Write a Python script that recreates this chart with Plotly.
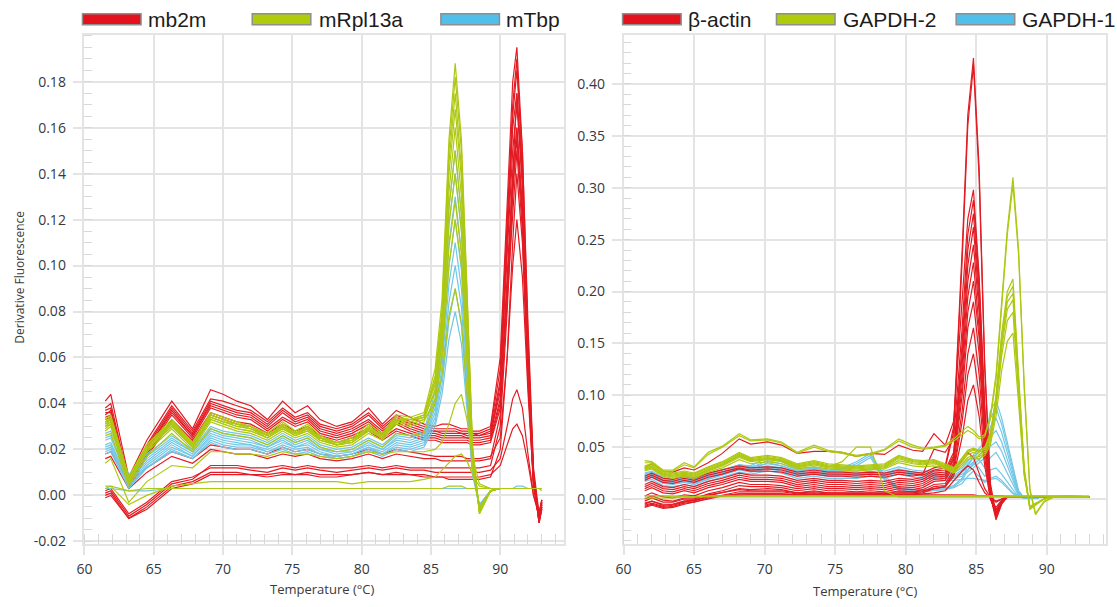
import plotly.graph_objects as go

# ---------------- temperature grids (deg C) ----------------
temp_left = [61.5, 61.9, 63.2, 64.5, 66.3, 67.8, 69.1, 70.0, 71.0, 72.0,
             73.2, 74.3, 75.2, 76.1, 77.0, 78.2, 79.3, 80.5, 81.5, 82.5,
             83.5, 84.5, 85.3, 85.8, 86.3, 86.75, 87.2, 87.6, 88.0, 88.5,
             89.3, 90.0, 90.5, 90.9, 91.2, 91.6, 92.0, 92.4, 92.8, 93.0]
temp_right = [61.5, 62.0, 62.8, 63.5, 64.3, 65.0, 66.0, 67.0, 68.2, 69.0,
              70.2, 71.2, 72.3, 73.5, 74.5, 75.5, 76.5, 77.5, 78.5, 79.5,
              80.5, 81.2, 82.0, 82.8, 83.4, 84.0, 84.4, 84.8, 85.2, 85.6,
              86.0, 86.4, 86.8, 87.2, 87.6, 88.0, 88.4, 88.8, 89.2, 89.8,
              90.5, 91.5, 93.0]

# derivative fluorescence values, in units of 0.001
# ---- left panel: mb2m ----
mb2m_1 = [41,44,8,24,41,29,46,44,41,39,33,41,36,39,33,30,32,38,31,37,34,31,30,31,31,30,29,29,28,28,30,60,130,180,195,150,70,10,-10,-3]
mb2m_2 = [38,40,6,22,39,28,42,41,39,37,32,38,34,36,31,29,31,36,30,35,32,30,29,29,29,29,28,28,27,27,29,55,120,170,190,140,65,8,-12,-5]
mb2m_3 = [37,38,5,21,38,27,41,39,37,36,31,37,33,35,30,28,30,35,29,34,31,29,28,28,28,28,27,27,27,26,28,50,115,165,185,150,75,12,-8,-2]
mb2m_4 = [35,37,4,20,37,26,40,38,36,35,30,36,32,34,29,27,29,33,28,33,30,28,28,27,27,27,27,26,26,26,27,45,110,160,175,140,65,10,-11,-4]
mb2m_5 = [36,36,5,20,36,26,39,37,35,34,29,34,31,33,28,26,28,32,27,32,29,27,27,26,26,26,26,25,25,25,26,48,105,150,170,135,60,8,-12,-6]
mb2m_6 = [33,34,4,19,35,25,38,36,34,33,28,33,30,32,27,25,27,31,26,31,28,26,26,25,25,25,25,25,24,24,25,42,95,140,160,125,58,9,-9,-3]
mb2m_7 = [34,35,3,18,33,24,36,34,32,31,27,31,28,30,26,24,26,29,25,29,27,25,25,24,24,24,24,24,23,23,24,40,90,135,155,120,55,6,-10,-4]
mb2m_8 = [32,33,3,17,32,23,35,33,31,30,26,30,27,29,25,23,25,28,24,28,26,24,24,23,23,23,23,23,22,22,23,38,85,125,150,115,50,5,-11,-5]
mb2m_9 = [18,19,6,12,19,16,22,21,20,20,18,21,19,20,18,17,18,20,18,20,19,18,17,17,17,17,17,16,16,16,17,25,60,100,120,95,45,5,-8,-2]
mb2m_10 = [2,3,-8,-3,6,8,12,12,12,11,10,12,11,12,11,10,11,12,11,12,11,11,10,10,10,10,10,10,10,10,11,16,30,42,46,38,18,0,-9,-3]
mb2m_11 = [0,1,-10,-5,4,6,10,10,10,9,9,10,9,10,9,9,9,10,9,10,9,9,8,8,8,8,8,8,8,8,9,13,22,29,31,26,14,0,-8,-2]
mb2m_12 = [-1,0,-10,-6,3,5,9,9,9,9,8,9,9,9,8,8,9,10,9,9,9,8,8,8,7,7,7,7,7,7,8,20,60,110,140,110,50,4,-10,-4]
mb2m_13 = [1,2,-9,-4,5,7,13,13,13,12,12,13,12,13,12,12,12,13,12,13,12,12,12,12,12,12,12,12,12,12,13,30,80,130,160,125,55,5,-11,-5]
mb2m_14 = [16,17,3,10,17,14,20,19,18,18,16,18,17,18,16,15,16,18,16,18,17,16,16,15,15,15,15,15,15,15,16,35,90,140,175,135,60,7,-12,-6]

# ---- left panel: mRpl13a ----
mrpl13a_1 = [33,35,8,22,33,23,36,34,32,30,27,32,28,31,26,23,25,31,27,35,34,36,55,85,155,188,155,90,22,-8,2,3,3,3,3,3,3,3,3,3]
mrpl13a_2 = [32,34,7,21,32,22,35,33,31,30,26,31,27,30,25,23,24,30,26,34,33,35,52,80,150,182,150,88,20,-7,2,3,3,3,3,3,3,3,3,3]
mrpl13a_3 = [31,33,7,21,31,22,34,32,31,29,26,30,27,29,25,22,24,29,26,33,33,34,50,78,145,175,142,85,20,-8,2,3,3,3,3,3,3,3,3,3]
mrpl13a_4 = [30,32,6,20,31,21,34,32,30,29,25,30,26,29,24,22,23,29,25,33,32,34,50,75,140,168,138,80,18,-7,2,3,3,3,3,3,3,3,3,3]
mrpl13a_5 = [32,33,8,22,32,23,35,33,31,30,26,31,27,30,25,23,24,30,26,34,33,35,48,72,132,160,130,78,18,-6,2,3,3,3,3,3,3,3,3,3]
mrpl13a_6 = [29,31,6,20,30,21,33,31,29,28,25,29,26,28,24,22,23,28,25,32,31,33,46,70,125,150,122,72,16,-7,2,3,3,3,3,3,3,3,3,3]
mrpl13a_7 = [31,32,7,21,31,22,34,32,30,29,26,30,27,29,25,22,24,29,26,33,32,34,45,66,118,140,115,68,15,-6,2,3,3,3,3,3,3,3,3,3]
mrpl13a_8 = [28,30,5,19,29,20,32,30,28,27,24,28,25,27,23,21,22,27,24,31,30,32,42,60,100,120,100,60,14,-6,2,3,3,3,3,3,3,3,3,3]
mrpl13a_9 = [30,31,6,20,30,21,33,31,29,28,25,29,26,28,24,22,23,28,25,32,31,33,40,52,78,90,75,45,12,-5,2,3,3,3,3,3,3,3,3,3]
mrpl13a_10 = [14,16,-3,6,13,12,19,19,18,18,17,19,18,18,17,16,17,19,18,19,19,19,20,23,31,40,44,33,17,5,3,3,3,3,3,3,3,3,3,3]
mrpl13a_11 = [3,4,-4,0,4,5,6,6,6,6,6,6,6,6,6,6,5,6,6,6,6,7,8,11,14,17,18,15,9,4,3,3,3,3,3,3,3,3,3,3]
mrpl13a_12 = [4,4,2,3,3, 3,3,3,3,3, 3,3,3,3,3, 3,3,3,3,3, 3,3,3,3,4, 4,4,3,3,3, 3,3,3,3,3, 3,3,3,3,2]
mrpl13a_13 = [26,27,4,17,27,19,29,27,26,25,22,26,23,25,21,19,20,24,21,27,26,27,40,62,108,128,105,62,14,-6,2,3,3,3,3,3,3,3,3,3]

# ---- left panel: mTbp ----
mtbp_1 = [27,28,9,18,26,20,30,28,27,26,23,27,24,26,22,20,21,25,22,27,26,28,45,75,125,150,122,70,15,-6,2,3,3,3,3,3,3,3,3,3]
mtbp_2 = [25,26,8,17,25,19,29,27,26,25,22,26,23,25,21,19,20,24,21,26,25,27,42,70,118,140,115,65,13,-5,2,3,3,3,3,3,3,3,3,3]
mtbp_3 = [24,25,7,16,24,19,28,26,25,24,21,25,22,24,20,19,19,23,20,25,24,26,40,66,110,130,106,60,12,-6,2,3,3,3,3,3,3,3,3,3]
mtbp_4 = [22,23,6,15,23,18,27,25,24,23,21,24,21,23,20,18,19,22,20,24,23,25,38,60,100,120,98,55,12,-5,2,3,3,3,3,3,3,3,3,3]
mtbp_5 = [21,22,5,14,22,17,26,24,23,22,20,23,21,22,19,17,18,21,19,23,22,24,36,56,92,110,90,50,11,-5,2,3,3,3,3,3,3,3,3,3]
mtbp_6 = [20,21,4,13,21,17,25,23,22,22,19,22,20,21,18,17,18,21,18,22,21,23,34,52,84,100,82,46,10,-4,2,3,3,3,3,3,3,3,3,3]
mtbp_7 = [19,20,4,12,20,16,24,22,21,21,19,21,19,20,18,16,17,20,18,21,20,22,32,48,76,90,74,42,10,-4,2,3,3,3,3,3,3,3,3,3]
mtbp_8 = [18,19,3,12,19,16,23,21,20,20,18,20,18,19,17,16,17,19,17,20,19,21,30,44,68,80,66,38,9,-5,2,3,3,3,3,3,3,3,3,3]
mtbp_9 = [3,3,2,2,3, 3,3,3,3,3, 3,3,3,3,3, 3,3,3,3,3, 3,3,3,3,3, 3,3,3,3,3, 3,3,3,3,4, 4,3,3,3,3]

# ---- right panel: beta-actin ----
bactin_1 = [22,25,20,19,22,20,25,28,32,30,31,30,26,28,26,26,25,26,25,28,26,25,30,32,70,240,370,425,320,130,15,-15,-3,2,2,2,2,2,2,2,2,2,2]
bactin_2 = [20,23,18,17,20,18,23,26,30,28,29,28,24,26,24,24,23,24,23,26,24,23,28,30,65,230,360,418,310,125,12,-16,-4,2,2,2,2,2,2,2,2,2,2]
bactin_3 = [30,34,27,26,30,28,35,44,58,53,55,52,44,46,46,45,41,44,43,52,47,46,63,52,75,190,270,298,215,90,8,-12,-2,2,2,2,2,2,2,2,2,2,2]
bactin_4 = [18,21,16,15,18,16,21,24,29,27,27,26,22,24,22,22,21,22,21,24,22,24,48,45,58,165,255,288,210,85,6,-14,-3,2,2,2,2,2,2,2,2,2,2]
bactin_5 = [14,17,12,11,14,12,17,20,25,23,23,22,18,20,18,18,17,18,17,20,19,21,27,28,45,150,240,275,200,80,5,-15,-3,2,2,2,2,2,2,2,2,2,2]
bactin_6 = [12,15,10,9,12,10,15,18,23,21,21,20,16,18,16,16,15,16,15,18,17,19,25,26,42,140,225,262,190,75,4,-18,-4,2,2,2,2,2,2,2,2,2,2]
bactin_7 = [10,13,8,7,10,8,13,16,21,19,19,18,14,16,14,14,13,14,13,16,15,17,23,24,40,130,210,245,180,70,3,-20,-5,2,2,2,2,2,2,2,2,2,2]
bactin_8 = [8,11,6,5,8,6,11,14,19,17,17,16,12,14,12,12,11,12,11,14,13,15,21,22,38,120,195,228,165,65,2,-14,-3,2,2,2,2,2,2,2,2,2,2]
bactin_9 = [3,6,2,1,4,3,8,11,16,14,14,13,10,12,10,10,9,10,9,12,11,13,19,20,35,110,180,210,155,60,2,-16,-3,2,2,2,2,2,2,2,2,2,2]
bactin_10 = [-2,1,-3,-3,0,0,5,8,13,12,12,11,8,10,8,8,7,8,7,10,9,11,17,18,32,100,165,190,140,55,1,-14,-2,2,2,2,2,2,2,2,2,2,2]
bactin_11 = [-5,-2,-6,-5,-2,-2,3,6,10,9,10,9,6,8,6,6,5,6,5,8,7,9,14,15,28,85,140,165,120,48,0,-12,-2,2,2,2,2,2,2,2,2,2,2]
bactin_12 = [-7,-5,-8,-7,-4,-3,1,4,7,7,7,7,5,6,5,5,5,5,5,6,6,7,12,13,25,75,120,140,100,40,0,-10,-2,2,2,2,2,2,2,2,2,2,2]
bactin_13 = [-8,-6,-9,-8,-5,-3,0,3,5,5,5,5,4,5,4,4,4,4,4,5,5,6,10,12,22,60,95,110,80,32,0,-8,-1,2,2,2,2,2,2,2,2,2,2]
bactin_14 = [0,3,-1,-2,1,1,4,6,9,8,8,8,6,7,6,6,6,6,6,7,7,8,10,12,25,38,45,40,25,10,2,-3,0,2,2,2,2,2,2,2,2,2,2]
bactin_15 = [-4,-2,-5,-5,-2,-1,2,3,5,5,5,5,4,4,4,4,4,4,4,4,4,5,6,8,18,27,32,28,16,6,1,-2,0,2,2,2,2,2,2,2,2,2,2]
bactin_16 = [-6,-4,-7,-6,-3,-1,2,3, 4,4,4,4,4,4,4,4,4,4, 4,4,4,4,4,4,4,4,4,4, 3,3,3,3,3, 2,2,2,2,2,2,2,2,2,2]

# ---- right panel: GAPDH-2 ----
gapdh2_1 = [37,36,28,28,35,31,45,51,63,57,58,55,45,52,47,45,42,44,48,58,52,49,50,52,58,65,70,66,60,62,80,120,190,260,310,240,110,10,-14,-2,2,3,2]
gapdh2_2 = [35,35,27,27,33,30,43,50,61,56,57,54,44,50,46,44,41,43,47,56,50,48,49,51,56,62,66,63,58,60,78,115,185,255,303,235,105,8,-15,-3,2,3,2]
gapdh2_3 = [31,33,26,24,26,24,30,35,44,39,41,39,33,36,33,32,31,32,33,41,37,36,37,33,29,39,46,48,46,49,62,100,160,200,212,120,30,-8,-5,0,2,2,2]
gapdh2_4 = [30,32,25,23,25,23,29,34,43,38,40,38,32,35,32,31,30,31,32,40,36,35,36,32,28,38,45,47,45,48,60,98,155,195,205,115,28,-9,-5,0,2,2,2]
gapdh2_5 = [32,34,27,25,27,25,31,36,45,40,42,40,34,37,34,33,32,33,34,42,38,37,38,34,30,40,47,49,47,50,64,96,150,190,198,110,26,-10,-6,0,2,2,2]
gapdh2_6 = [29,31,24,22,24,22,28,33,42,37,39,37,31,34,31,30,29,30,31,39,35,34,35,31,27,36,43,45,43,46,58,92,145,183,192,108,25,-8,-5,0,2,2,2]
gapdh2_7 = [28,30,23,21,23,21,27,32,40,36,38,36,30,33,30,29,28,29,30,37,34,33,34,30,26,34,40,42,41,44,55,88,138,172,180,100,24,-8,-4,0,2,2,2]
gapdh2_8 = [27,29,22,20,22,20,26,30,38,34,36,34,29,31,29,28,27,28,29,35,32,31,32,29,25,32,38,40,39,42,52,80,124,152,160,92,22,-7,-4,0,2,2,2]
gapdh2_9 = [28,31,24,22,24,22,28,33,41,37,39,37,31,34,31,36,50,50,8,2, 2,2,2,2,2,2,2,2,2,2, 2,2,2,2,2,2,2,2,2,2, 2,2,2]
gapdh2_10 = [3,3,3,2,3,2,3,3,3,3, 3,3,3,3,3,3,3,3,3,3, 3,3,3,3,3,3,3,3,3,3, 3,3,3,3,3,3,3,3,3,3, 3,3,2]
gapdh2_11 = [1,1,1,1,2,2,2,2,2,2, 2,2,2,2,2,2,2,2,2,2, 2,2,2,2,2,2,2,2,2,2, 2,2,2,2,2,2,2,2,2,2, 2,2,2]

# ---- right panel: GAPDH-1 ----
gapdh1_1 = [25,27,21,19,21,19,24,28,33,31,34,32,27,29,27,27,27,29,27,31,28,27,27,25,25,30,36,42,48,55,85,95,78,55,32,8,1,1,1,2,2,2,2]
gapdh1_2 = [23,25,19,17,19,17,22,26,31,29,32,30,25,27,25,25,25,27,25,29,26,25,25,23,23,28,34,40,45,52,78,88,72,50,29,7,1,1,1,2,2,2,2]
gapdh1_3 = [22,24,18,16,18,16,21,25,30,28,31,29,24,26,24,24,24,26,24,28,25,24,24,22,22,26,31,36,42,48,70,78,64,45,26,6,1,1,1,2,2,2,2]
gapdh1_4 = [20,22,16,15,17,15,20,24,29,27,30,28,23,25,23,23,23,25,23,27,24,23,23,21,21,24,28,33,38,44,60,66,55,38,22,5,1,1,1,2,2,2,2]
gapdh1_5 = [19,21,15,14,16,14,19,23,28,26,29,27,22,24,22,22,22,24,22,26,23,22,22,20,20,22,26,30,35,40,51,55,46,32,18,4,1,1,1,2,2,2,2]
gapdh1_6 = [24,26,20,18,20,18,24,28,33,32,40,36,29,31,28,30,36,44,22,11,9,9,10,11,13,20,32,40,38,30,40,45,36,25,14,3,1,1,1,2,2,2,2]
gapdh1_7 = [22,24,18,16,18,16,22,26,31,30,37,34,28,30,27,29,34,42,20,10,8,8,9,10,12,18,28,35,30,22,28,30,24,16,9,2,1,1,1,2,2,2,2]
gapdh1_8 = [21,23,17,15,17,15,21,25,29,28,35,32,27,29,26,28,32,40,18,9,7,7,8,9,11,15,22,27,22,16,20,22,18,12,6,2,1,1,1,2,2,2,2]
gapdh1_9 = [17,19,13,12,14,12,17,21,26,24,27,25,20,22,20,20,20,22,20,24,21,20,20,18,18,19,20,20,19,18,19,20,16,10,5,2,1,1,1,2,2,2,2]
gapdh1_10 = [3,3,3,3,3,3,3,3,3,3, 3,3,3,3,3,3,3,3,3,3, 3,3,3,3,3,3,3,3,3,3, 3,3,3,3,3,3,3,3,3,3, 3,3,3]

# tick labels
left_y_ticks = [-0.02, 0.00, 0.02, 0.04, 0.06, 0.08, 0.10, 0.12, 0.14, 0.16, 0.18]
left_y_labels = ["-0.02", "0.00", "0.02", "0.04", "0.06", "0.08", "0.10", "0.12", "0.14", "0.16", "0.18"]
right_y_ticks = [0.00, 0.05, 0.10, 0.15, 0.20, 0.25, 0.30, 0.35, 0.40]
right_y_labels = ["0.00", "0.05", "0.10", "0.15", "0.20", "0.25", "0.30", "0.35", "0.40"]
x_ticks = [60, 65, 70, 75, 80, 85, 90]
x_labels = ["60", "65", "70", "75", "80", "85", "90"]

left_names = ["mb2m", "mRpl13a", "mTbp"]
right_names = ["β-actin", "GAPDH-2", "GAPDH-1"]

SCALE = 1000.0
RED, GREEN, BLUE = "#e31b23", "#aec812", "#72c6e6"
SW_RED, SW_GREEN, SW_BLUE = "#e3121c", "#aecb0c", "#50bfe9"

mb2m = [mb2m_1, mb2m_2, mb2m_3, mb2m_4, mb2m_5, mb2m_6, mb2m_7, mb2m_8,
        mb2m_9, mb2m_10, mb2m_11, mb2m_12, mb2m_13, mb2m_14]
mrpl13a = [mrpl13a_1, mrpl13a_2, mrpl13a_3, mrpl13a_4, mrpl13a_5, mrpl13a_6, mrpl13a_7,
           mrpl13a_8, mrpl13a_9, mrpl13a_10, mrpl13a_11, mrpl13a_12, mrpl13a_13]
mtbp = [mtbp_1, mtbp_2, mtbp_3, mtbp_4, mtbp_5, mtbp_6, mtbp_7, mtbp_8, mtbp_9]
bactin = [bactin_1, bactin_2, bactin_3, bactin_4, bactin_5, bactin_6, bactin_7, bactin_8,
          bactin_9, bactin_10, bactin_11, bactin_12, bactin_13, bactin_14, bactin_15, bactin_16]
gapdh2 = [gapdh2_1, gapdh2_2, gapdh2_3, gapdh2_4, gapdh2_5, gapdh2_6, gapdh2_7, gapdh2_8,
          gapdh2_9, gapdh2_10, gapdh2_11]
gapdh1 = [gapdh1_1, gapdh1_2, gapdh1_3, gapdh1_4, gapdh1_5, gapdh1_6, gapdh1_7, gapdh1_8,
          gapdh1_9, gapdh1_10]

fig = go.Figure()


def add_group(curves, temps, color, xa, ya):
    for c in curves:
        n = min(len(c), len(temps))
        fig.add_trace(go.Scatter(
            x=temps[:n], y=[v / SCALE for v in c[:n]], mode="lines",
            line=dict(color=color, width=1.2), xaxis=xa, yaxis=ya,
            showlegend=False, hoverinfo="skip"))


add_group(mb2m, temp_left, RED, "x", "y")
add_group(mtbp, temp_left, BLUE, "x", "y")
add_group(mrpl13a, temp_left, GREEN, "x", "y")
add_group(gapdh1, temp_right, BLUE, "x2", "y2")
add_group(bactin, temp_right, RED, "x2", "y2")
add_group(gapdh2, temp_right, GREEN, "x2", "y2")

W, H = 1117, 607
GRID = "#e4e4e4"
TICKFONT = dict(family="Open Sans", size=14, color="#333a44")


def px(x):
    return x / W


def py(y):
    return 1 - y / H


common_x = dict(showgrid=True, gridcolor=GRID, gridwidth=1.5, zeroline=False,
                showline=True, linecolor=GRID, linewidth=1.5, mirror=True,
                ticks="outside", ticklen=10, tickcolor=GRID, tickwidth=1.5,
                ticklabelstandoff=2,
                tickvals=x_ticks, ticktext=x_labels, tickfont=TICKFONT,
                minor=dict(ticks="inside", ticklen=10, tickcolor="#d8d8d8", tickwidth=1.2,
                           dtick=1, tick0=60, showgrid=False))
common_y = dict(showgrid=True, gridcolor=GRID, gridwidth=1.5, zeroline=False,
                showline=True, linecolor=GRID, linewidth=1.5, mirror=True,
                ticks="outside", ticklen=10, tickcolor=GRID, tickwidth=1.5,
                ticklabelstandoff=4, tickfont=TICKFONT)

top_px, bot_px = 35, 550
fig.update_layout(
    width=W, height=H, autosize=False,
    margin=dict(l=0, r=0, t=0, b=0),
    paper_bgcolor="white", plot_bgcolor="white",
    showlegend=False,
    xaxis=dict(domain=[px(77), px(560)], range=[60, 94.6], anchor="y", **common_x),
    yaxis=dict(domain=[py(bot_px), py(top_px)], range=[-0.021, 0.2005], anchor="x",
               tickvals=left_y_ticks, ticktext=left_y_labels,
               minor=dict(ticks="inside", ticklen=8, tickcolor="#d8d8d8", tickwidth=1.2,
                          dtick=0.005, tick0=0, showgrid=False),
               **common_y),
    xaxis2=dict(domain=[px(620), px(1106)], range=[60, 94.2], anchor="y2", **common_x),
    yaxis2=dict(domain=[py(bot_px), py(top_px)], range=[-0.043, 0.4476], anchor="x2",
                tickvals=right_y_ticks, ticktext=right_y_labels,
                minor=dict(ticks="inside", ticklen=8, tickcolor="#d8d8d8", tickwidth=1.2,
                           dtick=0.01, tick0=0, showgrid=False),
                **common_y),
)

# axis titles
ann = [
    dict(text="Temperature (°C)", x=px(316), y=py(596), xref="paper", yref="paper",
         xanchor="center", yanchor="middle", showarrow=False,
         font=dict(family="Open Sans", size=13, color="#3a3a3a")),
    dict(text="Temperature (°C)", x=px(863), y=py(598), xref="paper", yref="paper",
         xanchor="center", yanchor="middle", showarrow=False,
         font=dict(family="Open Sans", size=13, color="#3a3a3a")),
    dict(text="Derivative Fluorescence", x=px(12), y=py(280), xref="paper", yref="paper",
         xanchor="center", yanchor="middle", showarrow=False, textangle=-90,
         font=dict(family="Open Sans", size=12, color="#3a3a3a")),
]

# custom legends (wide swatches with grey border)
legend_items = [
    (left_names[0], SW_RED, 75, 134, 139),
    (left_names[1], SW_GREEN, 246, 305, 311),
    (left_names[2], SW_BLUE, 436, 495, 500),
    (right_names[0], SW_RED, 619, 678, 683),
    (right_names[1], SW_GREEN, 774, 833, 839),
    (right_names[2], SW_BLUE, 955, 1014, 1019),
]
shapes = []
for name, col, x0, x1, tx in legend_items:
    shapes.append(dict(type="rect", xref="paper", yref="paper",
                       x0=px(x0), x1=px(x1), y0=py(25), y1=py(14),
                       fillcolor=col, line=dict(color="#8e8e8e", width=1.5)))
    ann.append(dict(text=name, x=px(tx), y=py(19.5), xref="paper", yref="paper",
                    xanchor="left", yanchor="middle", showarrow=False,
                    font=dict(family="Liberation Sans", size=21, color="#1c1c1c")))

fig.update_layout(annotations=ann, shapes=shapes)

fig.write_html("out.html", config={"displayModeBar": False})
